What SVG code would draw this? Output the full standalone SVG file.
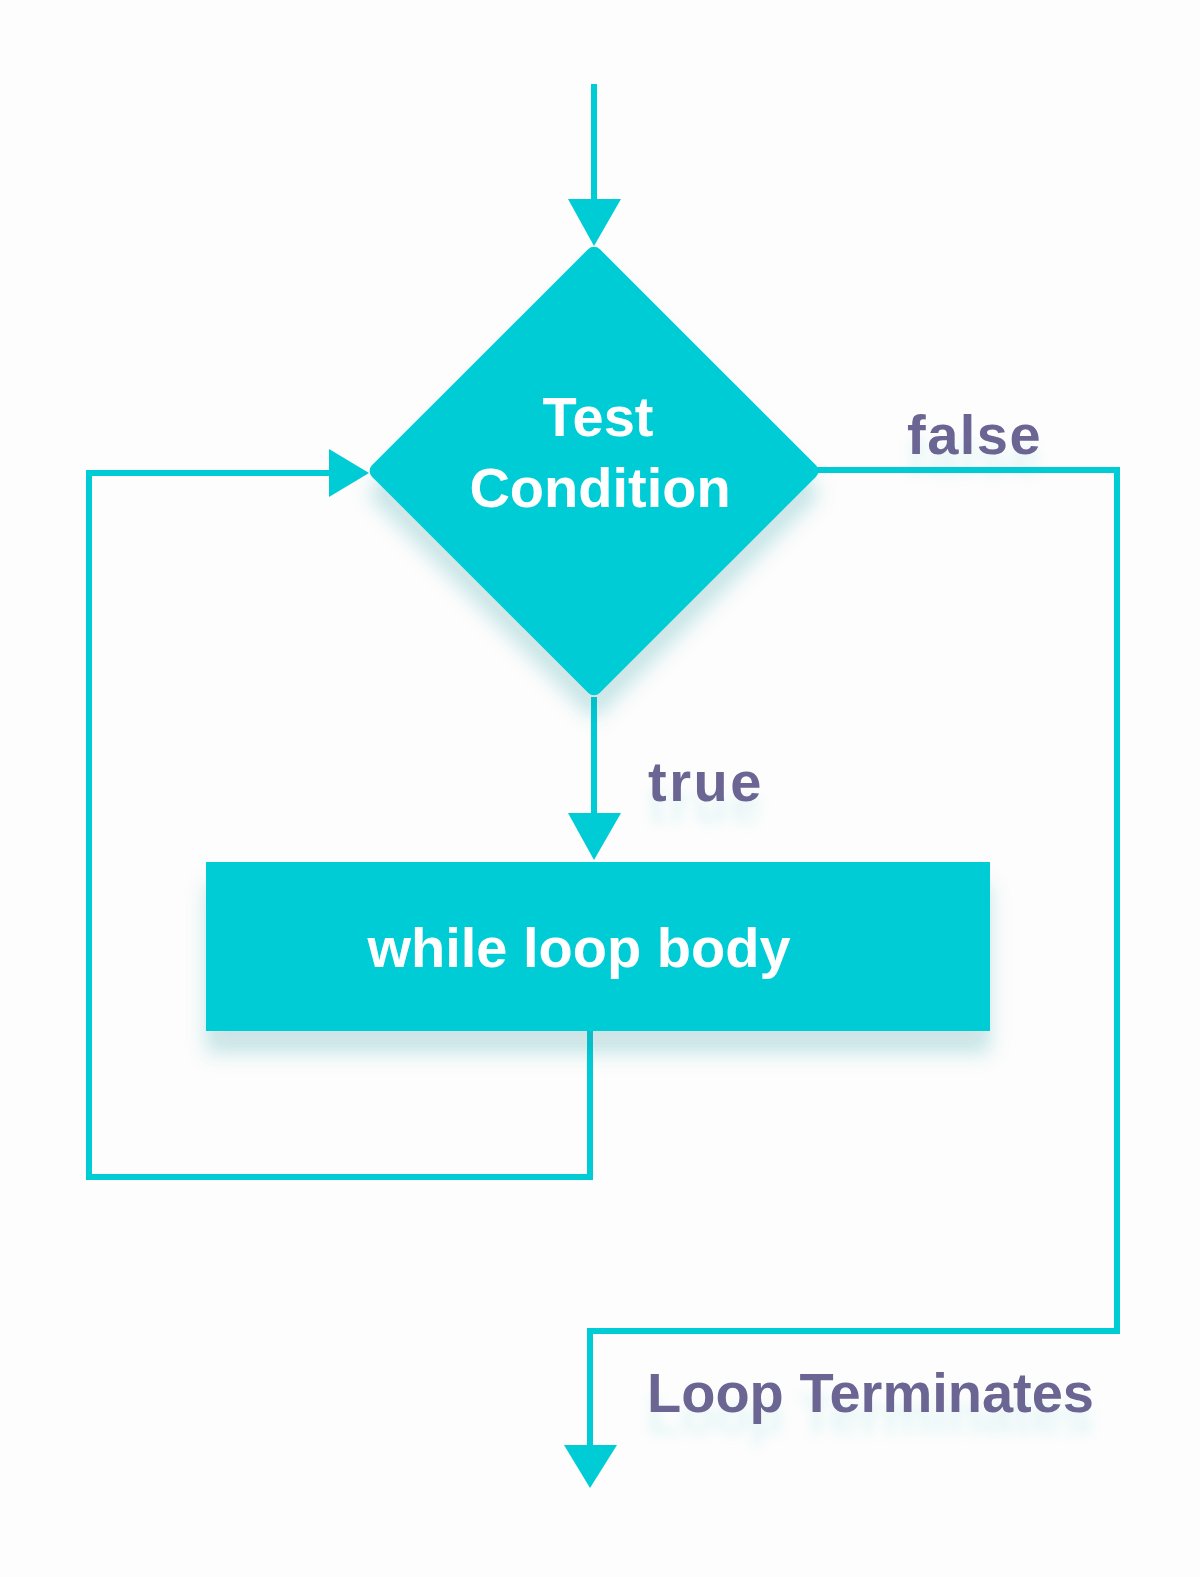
<svg xmlns="http://www.w3.org/2000/svg" width="1200" height="1577" viewBox="0 0 1200 1577">
  <defs>
    <style>
      .line { fill: none; stroke: #00CCD6; stroke-width: 6; stroke-linejoin: miter; stroke-linecap: butt; }
      .head { fill: #00CCD6; }
      .shape { fill: #00CCD6; }
      .ntext { font-family: "Liberation Sans", Arial, sans-serif; font-weight: bold; font-size: 56px; fill: #FFFFFF; text-anchor: middle; }
      .label { font-family: "Liberation Sans", Arial, sans-serif; font-weight: bold; font-size: 56px; fill: #6A6593; }
    </style>
    <filter id="shadow" x="-30%" y="-30%" width="160%" height="170%">
      <feGaussianBlur in="SourceAlpha" stdDeviation="10"/>
      <feOffset dx="0" dy="22" result="b"/>
      <feFlood flood-color="#1A8C95" flood-opacity="0.22"/>
      <feComposite in2="b" operator="in"/>
      <feMerge><feMergeNode/><feMergeNode in="SourceGraphic"/></feMerge>
    </filter>
    <filter id="tshadow" x="-20%" y="-50%" width="140%" height="220%">
      <feGaussianBlur in="SourceAlpha" stdDeviation="6"/>
      <feOffset dx="0" dy="22" result="b"/>
      <feFlood flood-color="#2AAAB5" flood-opacity="0.10"/>
      <feComposite in2="b" operator="in"/>
      <feMerge><feMergeNode/><feMergeNode in="SourceGraphic"/></feMerge>
    </filter>
  </defs>
  <rect x="0" y="0" width="1200" height="1577" fill="#FDFDFD"/>

  <g id="connectors">
    <!-- entry arrow -->
    <line class="line" x1="594" y1="84" x2="594" y2="205"/>
    <polygon class="head" points="568,199 621,199 594,246"/>
    <!-- true arrow -->
    <line class="line" x1="594" y1="697" x2="594" y2="818"/>
    <polygon class="head" points="568,813 621,813 594,860"/>
    <!-- loop back -->
    <polyline class="line" points="590,1031 590,1177 89,1177 89,473 334,473"/>
    <polygon class="head" points="329,449 329,497 369,473"/>
    <!-- false path -->
    <polyline class="line" points="816,470 1117,470 1117,1331 590,1331 590,1450"/>
    <polygon class="head" points="564,1445 617,1445 590,1488"/>
  </g>

  <g id="node-condition" filter="url(#shadow)">
    <rect class="shape" x="-161" y="-161" width="322" height="322" rx="8" transform="translate(594,471) rotate(45)"/>
    <text class="ntext" x="598" y="436">Test</text>
    <text class="ntext" x="600" y="507">Condition</text>
  </g>

  <g id="node-body" filter="url(#shadow)">
    <rect class="shape" x="206" y="862" width="784" height="169"/>
    <text class="ntext" x="579" y="967">while loop body</text>
  </g>

  <g id="labels" filter="url(#tshadow)">
    <text class="label" x="907" y="454" letter-spacing="1.5">false</text>
    <text class="label" x="648" y="801" letter-spacing="2.5">true</text>
    <text class="label" x="647" y="1412">Loop Terminates</text>
  </g>
</svg>
